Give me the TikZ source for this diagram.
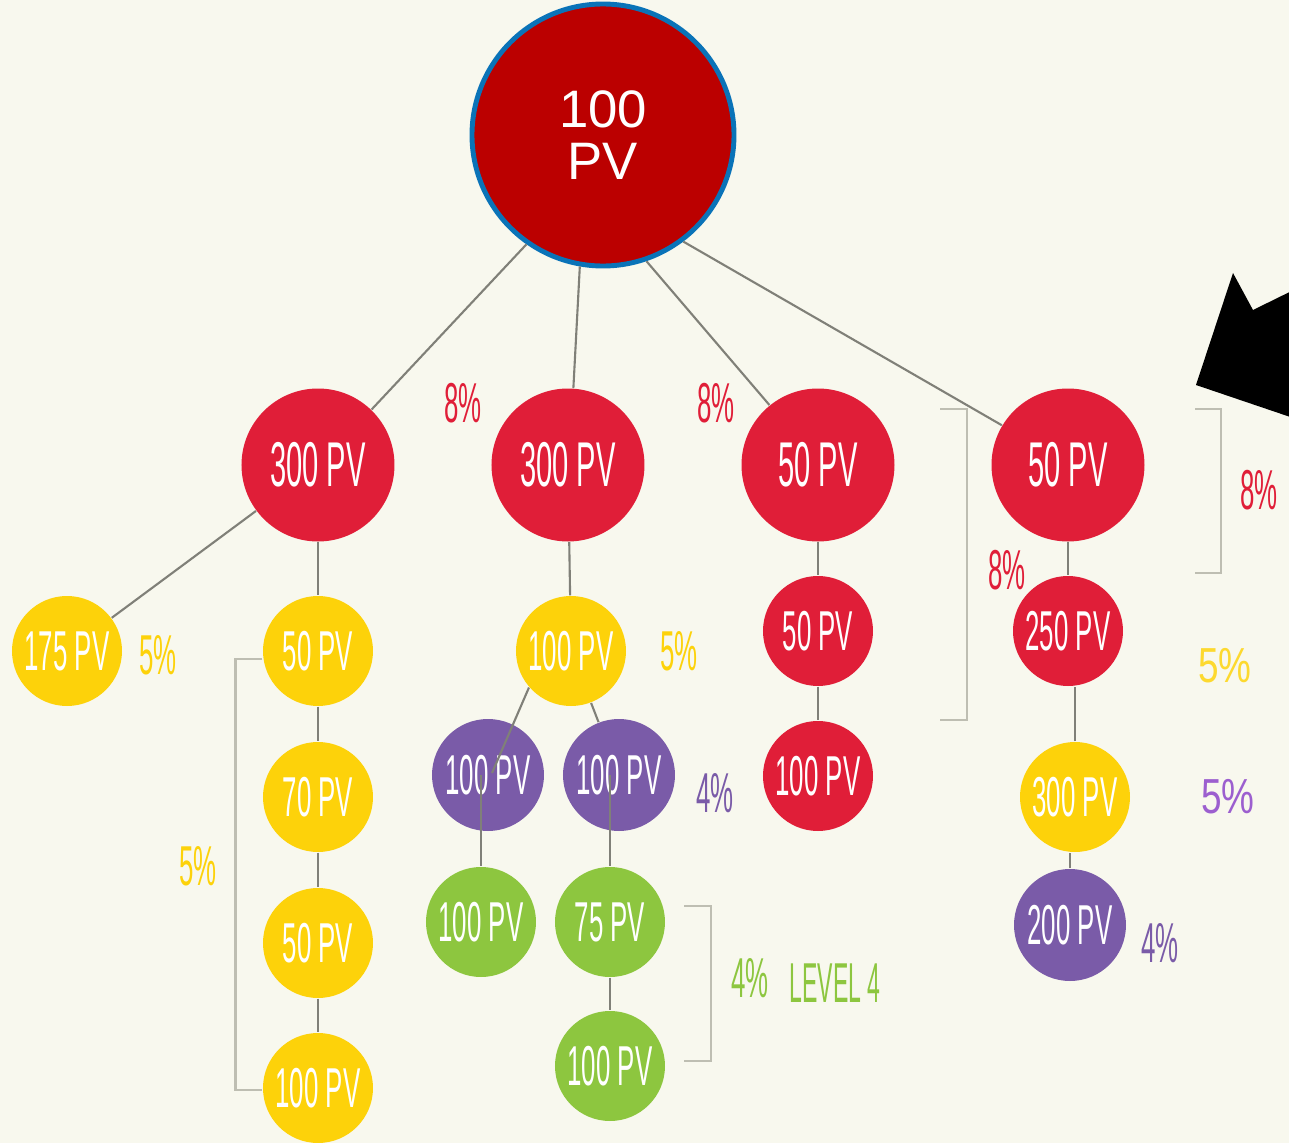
\documentclass[tikz,border=0pt]{standalone}
\usepackage{fontspec}
\usepackage{tikz}
\usepackage{xcolor}
\usetikzlibrary{positioning}
\newfontfamily\condfont[FakeStretch=0.46]{Liberation Sans}
\newfontfamily\levelfont[FakeStretch=0.41]{Liberation Sans}
\newfontfamily\pctfont[FakeStretch=0.75]{Liberation Sans}
\newfontfamily\rootfont{Liberation Sans}
\definecolor{bgcream}{RGB}{248,248,238}
\definecolor{rootred}{RGB}{187,0,0}
\definecolor{rootblue}{RGB}{10,115,184}
\definecolor{pvred}{RGB}{224,30,56}
\definecolor{pvyellow}{RGB}{253,210,10}
\definecolor{pvpurple}{RGB}{122,91,168}
\definecolor{pvgreen}{RGB}{141,198,63}
\definecolor{lilac}{RGB}{156,95,207}
\definecolor{linkgray}{RGB}{128,128,120}
\definecolor{brgray}{RGB}{190,190,178}

\begin{document}
\begin{tikzpicture}[on grid, node distance=2.5cm, pv/.style={circle, inner sep=0pt, text=white, font=\condfont\fontsize{16}{16}\selectfont}, big/.style={pv, minimum size=1.53cm, fill=pvred, font=\condfont\fontsize{18}{18}\selectfont}, small/.style={pv, minimum size=1.1cm}, link/.style={draw=linkgray, line width=0.6pt}, bracket/.style={draw=brgray, line width=0.8pt}, pct/.style={font=\condfont\fontsize{16}{16}\selectfont}, arialpct/.style={font=\pctfont\fontsize{14}{14}\selectfont}]

            \useasboundingbox (0,0) rectangle (12.89,-11.43);
            \fill[bgcream] (0,0) rectangle (12.89,-11.43);
            \begin{scope}
                \clip (0,0) rectangle (12.89,-11.43);
                \fill[black] (11.96,-3.85) -- (12.33,-2.73) -- (12.53,-3.10) -- (14.32,-2.22) -- (14.69,-2.97) -- (12.90,-3.855) -- (13.08,-4.23) -- cycle;
            \end{scope}

            \node[circle, draw=rootblue, line width=1.4pt, fill=rootred, minimum size=2.62cm, text=white, align=center, font=\rootfont\fontsize{15}{15}\selectfont] (root) at (6.03,-1.35) {100\\PV};

            \node[big, below left=3.30cm and 2.85cm of root] (A1) {300 PV};
            \node[big, right=of A1] (A2) {300 PV};
            \node[big, right=of A2] (A3) {50 PV};
            \node[big, right=of A3] (A4) {50 PV};

            \node[small, fill=pvyellow, below left=1.86cm and 2.51cm of A1] (Y1) {175 PV};
            \node[small, fill=pvyellow, below=1.86cm of A1] (Y2) {50 PV};
            \node[small, fill=pvyellow, below=1.46cm of Y2] (Y3) {70 PV};
            \node[small, fill=pvyellow, below=1.46cm of Y3] (Y4) {50 PV};
            \node[small, fill=pvyellow, below=1.45cm of Y4] (Y5) {100 PV};

            \node[small, fill=pvyellow, below right=1.86cm and 0.03cm of A2] (B) {100 PV};
            \node[small, fill=pvpurple, minimum size=1.12cm, below left=1.24cm and 0.83cm of B] (P1) {100 PV};
            \node[small, fill=pvpurple, minimum size=1.12cm, below right=1.24cm and 0.48cm of B] (P2) {100 PV};
            \node[small, fill=pvgreen, below left=1.47cm and 0.07cm of P1] (G1) {100 PV};
            \node[small, fill=pvgreen, below left=1.47cm and 0.09cm of P2] (G2) {75 PV};
            \node[small, fill=pvgreen, below=1.44cm of G2] (G3) {100 PV};

            \node[small, fill=pvred, below=1.66cm of A3] (R1) {50 PV};
            \node[small, fill=pvred, below=1.45cm of R1] (R2) {100 PV};

            \node[small, fill=pvred, below=1.66cm of A4] (S1) {250 PV};
            \node[small, fill=pvyellow, below right=1.66cm and 0.07cm of S1] (S2) {300 PV};
            \node[small, fill=pvpurple, minimum size=1.12cm, below left=1.28cm and 0.05cm of S2] (S3) {200 PV};

            \coordinate (P1in) at ([shift={(0.04,0.02)}]P1.center);
            \coordinate[above=1.47cm of G1] (P1top);
            \coordinate[above=1.47cm of G2] (P2top);

            \draw[link]
            (root.235) edge (A1.46)
            (root.260) edge (A2.86)
            (root.289) edge (A3.129)
            (root.307) edge (A4.149)
            (A1) edge (Y1) edge (Y2)
            (Y2) edge (Y3)
            (Y3) edge (Y4)
            (Y4) edge (Y5)
            (A2) edge (B)
            (B) edge (P2)
            (A3) edge (R1)
            (R1) edge (R2)
            (A4) edge (S1)
            (G2) edge (G3)
            ;
            \draw[link] (B.221) -- (P1in);
            \draw[link] (P1top) -- (G1);
            \draw[link] (P2top) -- (G2);
            \draw[link] (S2) -- (S2 |- S1.south);
            \draw[link] (S3) -- (S3 |- S2.south);

            % brackets
            \coordinate[above right=0.56cm and 1.22cm of A3] (brMidTop);
            \coordinate[below right=2.55cm and 1.22cm of A3] (brMidBot);
            \coordinate[above right=0.56cm and 1.27cm of A4] (brRightTop);
            \coordinate[below right=1.08cm and 1.27cm of A4] (brRightBot);
            \coordinate[above right=0.16cm and 0.74cm of G2] (brGreenTop);
            \coordinate[above right=0.05cm and 0.74cm of G3] (brGreenBot);
            \draw[bracket] ([yshift=-0.08cm]Y2.west) -- ++(-0.27,0) |- ([yshift=-0.02cm]Y5.west);
            \draw[bracket] (brMidTop) -- ++(0.27,0) |- (brMidBot);
            \draw[bracket] (brRightTop) -- ++(0.26,0) |- (brRightBot);
            \draw[bracket] (brGreenTop) -- ++(0.27,0) |- (brGreenBot);

            % percentages
            \node[pct, text=pvred, above right=0.62cm and 1.45cm of A1] (p1) {8\%};
            \node[pct, text=pvred, above left=0.62cm and 1.02cm of A3] (p2) {8\%};
            \node[pct, text=pvred, below left=1.05cm and 0.61cm of A4] (p3) {8\%};
            \node[pct, text=pvred, below right=0.25cm and 1.91cm of A4] (p4) {8\%};
            \node[pct, text=pvyellow, below right=0.04cm and 0.91cm of Y1] (p5) {5\%};
            \node[pct, text=pvyellow, right=1.08cm of B] (p6) {5\%};
            \node[pct, text=pvyellow, below left=0.69cm and 1.20cm of Y3] (p7) {5\%};
            \node[pct, text=pvpurple, below right=0.18cm and 0.96cm of P2] (p8) {4\%};
            \node[pct, text=pvpurple, below right=0.18cm and 0.90cm of S3] (p9) {4\%};
            \node[pct, text=pvgreen, below right=0.56cm and 1.40cm of G2] (p10) {4\%};
            \node[pct, text=pvgreen, font=\levelfont\fontsize{16}{16}\selectfont, right=0.85cm of p10, yshift=-0.05cm] (level) {LEVEL 4};
            \node[arialpct, text=pvyellow!85!white, below right=0.35cm and 1.57cm of S1] (p11) {5\%};
            \node[arialpct, text=lilac, right=1.53cm of S2] (p12) {5\%};

        \end{tikzpicture}
\end{document}
